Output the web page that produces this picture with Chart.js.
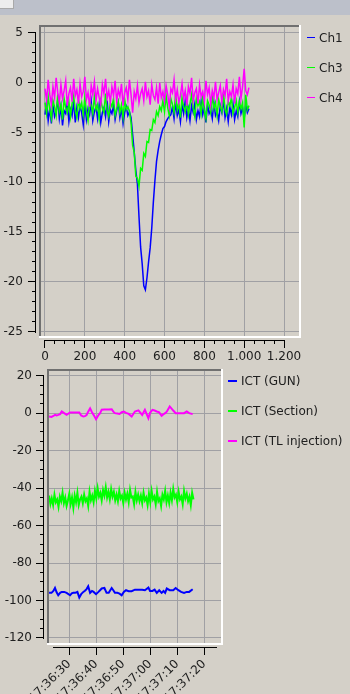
<!DOCTYPE html>
<html>
<head>
<meta charset="utf-8">
<script src="https://cdn.jsdelivr.net/npm/chart.js@4.4.1/dist/chart.umd.min.js"></script>
<style>
  html, body { margin: 0; padding: 0; }
  body { width: 350px; height: 694px; background: #d4d0c8; position: relative; overflow: hidden; font-family: 'DejaVu Sans', sans-serif; }
  #bar { position: absolute; left: 0; top: 0; width: 350px; height: 15px; background: #bcc0ca; }
  #tab { position: absolute; left: 0; top: 0; width: 13px; height: 8px; background: #ededed; border-right: 1px solid #a9a9a9; border-bottom: 1px solid #a9a9a9; }
  canvas { position: absolute; left: 0; }
  #scope { top: 0; }
  #ict { top: 355px; }
  .leg { position: absolute; font-size: 12px; line-height: 14px; color: #202020; white-space: nowrap; }
  .sw { position: absolute; }
</style>
</head>
<body>
<div id="bar"><div id="tab"></div></div>
<canvas id="scope" width="350" height="366"></canvas>
<canvas id="ict" width="350" height="339"></canvas>
<script>
// scope traces, one value every 8 samples
const sampleStep = 8;
const ch1 = [
  -3.2, -1.9, -3.8, -2.6, -4.1, -2.2, -3.4, -2.9, -1.7, -3.6, -2.4, -4.3, -2.8, -3.1, -2.0, -3.9, -2.7, -3.3,
  -1.8, -4.0, -2.5, -3.5, -2.3, -3.0, -4.2, -2.1, -3.7, -2.6, -3.2, -1.9, -3.8, -2.9, -2.4, -3.6, -2.2, -4.0,
  -3.0, -2.5, -3.4, -1.8, -3.9, -2.7, -3.1, -2.3, -3.7, -2.8, -2.0, -3.5, -2.6, -4.1, -3.0, -2.4, -3.3, -2.9,
  -3.5, -5.2, -7.0, -8.8, -10.2, -13.5, -16.5, -18.2, -20.4, -20.8, -19.6, -18.0, -16.6, -14.6, -12.0, -9.8,
  -7.9, -6.8, -5.9, -5.2, -4.6, -4.4, -3.9, -3.6, -3.4, -3.2,
  -2.4, -3.6, -2.0, -3.3, -2.7, -3.9, -2.2, -3.1, -1.8, -3.5, -2.6, -3.8, -2.3, -3.0, -2.1, -3.7, -2.8, -3.4,
  -1.9, -3.2, -2.5, -4.0, -2.2, -3.1, -2.7, -3.6, -2.0, -3.3, -2.9, -3.8, -2.3, -3.0, -1.7, -3.5, -2.6, -3.9,
  -2.4, -3.2, -2.1, -3.7, -2.8, -3.4, -1.9, -3.1, -2.5, -3.6, -2.2, -3.0, -2.6
];
const ch3 = [
  -2.0, -3.1, -1.4, -2.7, -3.6, -1.8, -2.4, -3.3, -1.2, -2.9, -2.2, -3.7, -1.6, -2.5, -3.0, -1.9, -3.4, -2.1,
  -1.3, -2.8, -3.5, -1.7, -2.6, -2.0, -3.2, -1.5, -2.9, -3.8, -1.9, -2.3, -3.1, -1.4, -2.7, -2.2, -3.6, -1.8,
  -2.5, -3.0, -1.1, -2.8, -3.4, -2.0, -2.4, -1.6, -3.3, -2.6, -1.9, -3.0, -2.2, -3.5, -1.7, -2.7, -2.4,
  -2.9, -4.0, -6.3, -7.0, -9.4, -9.6, -10.4, -8.6, -8.8, -7.1, -7.4, -5.9, -6.0, -4.7, -4.8, -3.7, -4.0, -2.9,
  -3.3, -2.4, -2.8,
  -1.8, -2.9, -1.3, -2.5, -3.3, -1.6, -2.2, -3.0, -1.1, -2.7, -2.0, -3.5, -1.5, -2.4, -2.9, -1.7, -3.2, -2.1,
  -1.2, -2.6, -3.4, -1.6, -2.3, -1.9, -3.1, -1.4, -2.8, -3.6, -1.8, -2.2, -3.0, -1.3, -2.6, -2.0, -3.3, -1.7,
  -2.4, -2.9, -1.0, -2.7, -3.2, -1.9, -2.3, -1.5, -3.1, -2.5, -1.8, -3.0, -1.9, -2.6, -2.0, -4.5, -1.2, -2.7, -2.3
];
const ch4 = [
  -0.6, -1.8, 0.3, -1.2, -2.2, -0.4, -1.5, 0.5, -1.0, -2.0, -0.2, -1.6, -0.8, 0.2, -2.3, -1.1, -0.5, -1.9,
  0.4, -1.3, -0.7, -2.1, -0.1, -1.4, -0.9, 0.6, -1.7, -1.0, -2.4, -0.3, -1.2, 0.1, -1.8, -0.6, -1.5, -2.2,
  -0.2, -1.1, 0.4, -1.6, -0.8, -2.0, -0.4, -1.3, 0.2, -1.9, -0.7, -1.4, -0.1, -2.3, -1.0, -0.5, -1.7, 0.3,
  -1.2, -3.0, -0.9, -1.6, -0.3, -2.0, -1.1, -0.6, -1.8, 0.1, -1.4, -0.8, -2.2, -0.2, -1.3, -1.7, -0.5, -2.1,
  0.0, -1.5, -0.9, -1.9, -0.3, -1.2, -2.4, -0.6, -1.0, 0.3, -1.7, -0.7, -2.0, -1.3, -0.1, -1.6, -0.8, -2.3,
  -0.4, -1.1, 0.5, -1.8, -1.0, -0.6, -2.1, -0.2, -1.4, -0.9, -1.9, 0.2, -1.2, -0.5, -2.2, -0.8, -1.5, 0.1,
  -1.7, -1.0, -0.3, -2.0, -0.7, -1.3, 0.4, -1.8, -0.9, -1.4, -0.2, -2.1, -0.6, -1.1, 0.6, -1.6, -0.4, 1.4,
  -0.8, -1.2, -0.5
];
const scopeLabels = ['Ch1', 'Ch3', 'Ch4'];

// ICT history, seconds relative to 17:36:30
const ictStart = 17 * 3600 + 36 * 60 + 30;
const slowTimes = [
  -7.5, -6.6, -5.9, -5.3, -4.7, -4.1, -3.4, -2.8, -1.9, -1.0, 0.3, 0.9, 1.5, 2.2, 3.0, 3.7, 4.4, 5.2, 5.8, 6.4,
  7.0, 7.7, 8.4, 9.0, 9.9, 10.8, 11.4, 12.0, 13.0, 13.8, 14.6, 15.7, 16.3, 16.9, 17.8, 18.6, 19.4, 20.2, 21.0, 22.0,
  23.1, 24.3, 25.6, 27.0, 28.0, 29.3, 29.9, 30.8, 31.6, 32.4, 33.3, 34.2, 34.9, 35.5, 36.1, 37.2, 38.5, 39.4, 40.4, 41.4,
  42.5, 43.5, 44.4, 45.7
];
const gunValues = [
  -95.9, -95.9, -94.9, -93.3, -95.6, -97.2, -95.9, -95.4, -95.4, -95.9, -97.2, -96.2, -95.9, -95.9, -95.4, -98.4,
  -96.6, -95.4, -94.8, -93.9, -92.4, -95.9, -94.9, -95.4, -96.6, -95.4, -94.5, -93.6, -93.3, -95.9, -95.9, -93.3,
  -94.5, -95.9, -95.9, -96.3, -97.2, -95.4, -94.5, -95.0, -95.0, -94.2, -94.2, -94.2, -94.5, -93.1, -94.9, -94.9,
  -94.2, -95.9, -94.5, -95.9, -94.9, -95.9, -93.6, -94.5, -94.5, -93.3, -94.5, -95.4, -95.9, -95.4, -95.4, -94.0
];
const tlValues = [
  -1.8, -2.0, -1.5, -0.9, -1.2, -0.9, -0.5, 0.9, 0.0, -0.9, 0.4, 0.4, 0.4, 0.4, 0.4, 0.4, -1.2, -1.8, -1.6, -1.0,
  0.8, 2.6, 0.5, -0.9, -3.2, -1.0, 0.0, 1.8, 1.9, 2.0, 2.0, 2.1, 0.8, 0.0, -0.2, -0.4, 0.5, 0.9, 0.2, -0.4,
  -1.8, 0.9, 1.5, -0.9, 1.8, -2.7, 0.2, 1.8, 1.4, 0.9, 0.4, -1.4, -0.6, 0.0, 0.8, 3.6, 1.4, 0.0, 0.0, 0.0,
  0.0, 0.9, 0.0, -0.5
];
// section ICT is read twice a second
const sectionStart = -7.5;
const sectionStep = 0.5;
const sectionValues = [
  -44.0, -48.5, -45.5, -49.0, -43.5, -47.5, -46.0, -50.0, -44.5, -47.0, -42.5, -48.0, -45.0, -49.5,
  -46.5, -43.0, -48.5, -45.0, -50.5, -44.0, -47.5, -42.5, -49.0, -46.0, -44.5, -48.0, -43.5, -47.0, -45.5, -49.5,
  -42.0, -46.5, -44.0, -47.5,
  -41.5, -45.5, -40.0, -44.5, -42.5, -46.5, -41.0, -44.0, -39.5, -45.0, -42.0, -46.0, -40.5, -44.5,
  -42.0, -46.5, -43.5, -47.0, -41.5, -45.5, -44.0, -48.0, -42.5, -46.0, -43.0, -47.5, -41.0, -45.0, -44.5, -48.5,
  -42.0, -46.5, -43.5, -47.0,
  -44.0, -48.0, -42.5, -46.5, -45.0, -49.0, -43.0, -47.5, -41.5, -46.0, -44.5, -48.5, -42.0, -47.0, -45.5, -49.5,
  -43.5, -46.0, -41.5, -47.5,
  -44.0, -48.0, -42.5, -46.5, -40.5, -45.0, -43.5, -47.5, -42.0, -46.0, -44.5, -48.5, -41.5, -45.5, -43.0, -47.0,
  -44.5, -49.0, -42.5, -46.0
];
const ictLabels = ['ICT (GUN)', 'ICT (Section)', 'ICT (TL injection)'];

const BLUE = '#0000ff', GREEN = '#00ff00', MAGENTA = '#ff00ff';
const gridColor = '#a0a0a4';
const textColor = '#202020';

Chart.defaults.font.family = "'DejaVu Sans', sans-serif";
Chart.defaults.font.size = 12;
Chart.defaults.color = textColor;

function range(lo, hi, step) {
  const out = [];
  for (let v = lo; v <= hi + 1e-9; v += step) out.push(Math.round(v * 1000) / 1000);
  return out;
}
const setTicks = values => scale => { scale.ticks = values.map(v => ({ value: v })); };
const fixWidth = w => scale => { scale.width = w; };
const fixHeight = h => scale => { scale.height = h; };
const isMult = (v, m) => Math.abs(v / m - Math.round(v / m)) < 1e-6;

function thousands(v) {
  if (v < 1000) return String(v);
  return Math.floor(v / 1000) + '.' + String(v % 1000).padStart(3, '0');
}
function clock(t) {
  const s = Math.round(ictStart + t);
  return [Math.floor(s / 3600), Math.floor(s / 60) % 60, s % 60]
    .map(n => String(n).padStart(2, '0')).join(':');
}
const pts = (xs, ys) => ys.map((y, i) => ({ x: xs[i], y }));

// sunken canvas frame + scale backbones drawn between the end ticks
const qwt = {
  id: 'qwt',
  beforeDraw(chart) {
    const { ctx, chartArea: a } = chart;
    ctx.save();
    ctx.fillStyle = '#707070';
    ctx.fillRect(a.left - 2, a.top - 2, a.right - a.left + 2, 2);
    ctx.fillRect(a.left - 2, a.top - 2, 2, a.bottom - a.top + 2);
    ctx.fillStyle = '#ffffff';
    ctx.fillRect(a.right, a.top - 2, 2, a.bottom - a.top + 4);
    ctx.fillRect(a.left - 2, a.bottom, a.right - a.left + 4, 2);
    ctx.restore();
  },
  afterDraw(chart, args, opts) {
    const { ctx } = chart;
    const xa = chart.scales.xa, ya = chart.scales.ya;
    const x0 = xa.getPixelForValue(opts.xSpan[0]), x1 = xa.getPixelForValue(opts.xSpan[1]);
    const y0 = ya.getPixelForValue(opts.ySpan[0]), y1 = ya.getPixelForValue(opts.ySpan[1]);
    ctx.save();
    ctx.fillStyle = '#000000';
    ctx.fillRect(Math.round(x0), xa.top, Math.round(x1 - x0) + 1, 1);
    ctx.fillRect(ya.right - 1, Math.round(y1), 1, Math.round(y0 - y1) + 1);
    ctx.restore();
  }
};

const minorLeft = major => c => (c.tick && isMult(c.tick.value, major)) ? [] : [0, 4, 4, 20];
const minorBottom = major => c => (c.tick && isMult(c.tick.value, major)) ? [] : [4, 20];

const sampleX = ch1.map((_, i) => i * sampleStep);

const scope = new Chart(document.getElementById('scope'), {
  type: 'line',
  data: {
    datasets: [
      { label: scopeLabels[0], data: pts(sampleX, ch1), borderColor: BLUE, backgroundColor: BLUE, order: 3 },
      { label: scopeLabels[1], data: pts(sampleX, ch3), borderColor: GREEN, backgroundColor: GREEN, order: 2 },
      { label: scopeLabels[2], data: pts(sampleX, ch4), borderColor: MAGENTA, backgroundColor: MAGENTA, order: 1 }
    ]
  },
  plugins: [qwt],
  options: {
    responsive: false,
    animation: false,
    devicePixelRatio: 1,
    layout: { padding: { top: 27, right: 51, bottom: 0, left: 0 } },
    elements: { point: { radius: 0 }, line: { borderWidth: 1.5, tension: 0 } },
    plugins: {
      legend: { display: false },
      tooltip: { enabled: false },
      qwt: { xSpan: [0, 1200], ySpan: [-25, 5] }
    },
    scales: {
      x: {
        type: 'linear', position: 'bottom', weight: 0, bounds: 'data', min: -20.08, max: 1275.3,
        afterBuildTicks: setTicks(range(0, 1200, 200)), afterFit: fixHeight(4),
        ticks: { display: false },
        grid: { color: gridColor, drawTicks: false },
        border: { display: false }
      },
      xa: {
        type: 'linear', position: 'bottom', weight: 1, bounds: 'data', min: -20.08, max: 1275.3,
        afterBuildTicks: setTicks(range(0, 1200, 50)), afterFit: fixHeight(26),
        ticks: {
          autoSkip: false, minRotation: 0, maxRotation: 0, padding: 2, color: textColor,
          callback: v => isMult(v, 200) ? thousands(v) : ''
        },
        grid: { drawOnChartArea: false, tickLength: 8, tickColor: '#000000', tickBorderDash: minorBottom(200) },
        border: { display: false }
      },
      y: {
        type: 'linear', position: 'left', weight: 0, bounds: 'data', min: -25.45, max: 5.6,
        afterBuildTicks: setTicks(range(-25, 5, 5)), afterFit: fixWidth(5),
        ticks: { display: false },
        grid: { color: gridColor, drawTicks: false },
        border: { display: false }
      },
      ya: {
        type: 'linear', position: 'left', weight: 1, bounds: 'data', min: -25.45, max: 5.6,
        afterBuildTicks: setTicks(range(-25, 5, 1)), afterFit: fixWidth(36),
        ticks: { autoSkip: false, padding: 5, color: textColor, callback: v => isMult(v, 5) ? String(v) : '' },
        grid: { drawOnChartArea: false, tickLength: 8, tickColor: '#000000', tickBorderDash: minorLeft(5) },
        border: { display: false }
      }
    }
  }
});

const sectionTimes = sectionValues.map((_, i) => sectionStart + i * sectionStep);

const ict = new Chart(document.getElementById('ict'), {
  type: 'line',
  data: {
    datasets: [
      { label: ictLabels[0], data: pts(slowTimes, gunValues), borderColor: BLUE, backgroundColor: BLUE },
      { label: ictLabels[1], data: pts(sectionTimes, sectionValues), borderColor: GREEN, backgroundColor: GREEN },
      { label: ictLabels[2], data: pts(slowTimes, tlValues), borderColor: MAGENTA, backgroundColor: MAGENTA }
    ]
  },
  plugins: [qwt],
  options: {
    responsive: false,
    animation: false,
    devicePixelRatio: 1,
    layout: { padding: { top: 16, right: 129, bottom: 0, left: 0 } },
    elements: { point: { radius: 0 }, line: { borderWidth: 2, tension: 0 } },
    plugins: {
      legend: { display: false },
      tooltip: { enabled: false },
      qwt: { xSpan: [-6, 54.3], ySpan: [-120, 20] }
    },
    scales: {
      x: {
        type: 'linear', position: 'bottom', weight: 0, bounds: 'data', min: -7.52, max: 56.19,
        afterBuildTicks: setTicks(range(0, 50, 10)), afterFit: fixHeight(4),
        ticks: { display: false },
        grid: { color: gridColor, drawTicks: false },
        border: { display: false }
      },
      xa: {
        type: 'linear', position: 'bottom', weight: 1, bounds: 'data', min: -7.52, max: 56.19,
        afterBuildTicks: setTicks(range(0, 50, 10)), afterFit: fixHeight(47),
        ticks: { autoSkip: false, minRotation: 45, maxRotation: 45, padding: 2, color: textColor, callback: v => clock(v) },
        grid: { drawOnChartArea: false, tickLength: 8, tickColor: '#000000' },
        border: { display: false }
      },
      y: {
        type: 'linear', position: 'left', weight: 0, bounds: 'data', min: -122.67, max: 22.51,
        afterBuildTicks: setTicks(range(-120, 20, 20)), afterFit: fixWidth(5),
        ticks: { display: false },
        grid: { color: gridColor, drawTicks: false },
        border: { display: false }
      },
      ya: {
        type: 'linear', position: 'left', weight: 1, bounds: 'data', min: -122.67, max: 22.51,
        afterBuildTicks: setTicks(range(-120, 20, 5)), afterFit: fixWidth(44),
        ticks: { autoSkip: false, padding: 4, color: textColor, callback: v => isMult(v, 20) ? String(v) : '' },
        grid: { drawOnChartArea: false, tickLength: 8, tickColor: '#000000', tickBorderDash: minorLeft(20) },
        border: { display: false }
      }
    }
  }
});

// legends beside the plots, built from the datasets
function sideLegend(chart, spec) {
  chart.data.datasets.forEach((ds, i) => {
    const top = spec.top + i * spec.gap;
    const sw = document.createElement('div');
    sw.className = 'sw';
    Object.assign(sw.style, {
      left: spec.swatchX + 'px', top: (top + 6) + 'px',
      width: spec.swatchW + 'px', height: spec.swatchH + 'px', background: ds.borderColor
    });
    const tx = document.createElement('div');
    tx.className = 'leg';
    tx.textContent = ds.label;
    Object.assign(tx.style, { left: spec.textX + 'px', top: top + 'px' });
    document.body.append(sw, tx);
  });
}
sideLegend(scope, { top: 31, gap: 30, swatchX: 307, swatchW: 8, swatchH: 1, textX: 319 });
sideLegend(ict, { top: 374, gap: 30, swatchX: 228, swatchW: 9, swatchH: 2, textX: 241 });
</script>
</body>
</html>
